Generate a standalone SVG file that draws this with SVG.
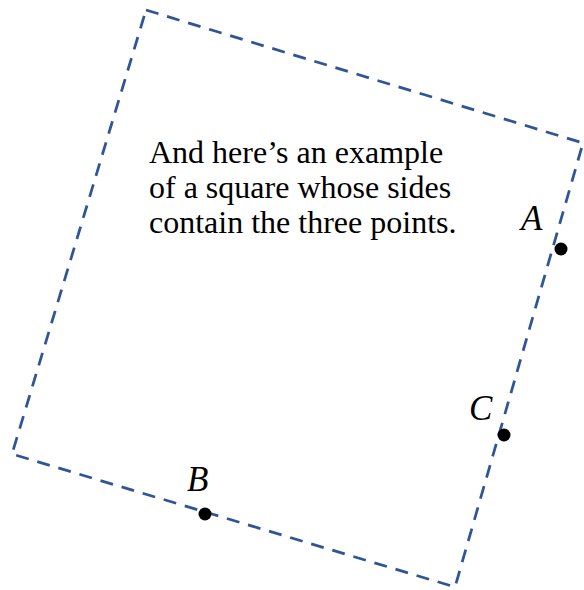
<svg xmlns="http://www.w3.org/2000/svg" width="584" height="590" viewBox="0 0 584 590">
<style>
.sq{fill:none;stroke:#2F5597;stroke-width:2.75;stroke-dasharray:13 9;stroke-linejoin:miter}
.pt{fill:#000}
.lbl{font-family:"Liberation Serif",serif;font-style:italic;font-size:35px;fill:#000}
.txt{font-family:"Liberation Serif",serif;font-size:32px;fill:#000}
</style>
<g id="connectors">
<polygon class="sq" points="146,10 583,143 455,587 12,454"/>
</g>
<g id="text"><text class="txt" x="149" y="163">And here’s an example</text><text class="txt" x="149" y="198">of a square whose sides</text><text class="txt" x="149" y="233">contain the three points.</text></g>
<g id="A"><circle class="pt" cx="561" cy="249" r="6.5"/><text class="lbl" x="521" y="230">A</text></g>
<g id="C"><circle class="pt" cx="504" cy="435" r="6.5"/><text class="lbl" x="469" y="420">C</text></g>
<g id="B"><circle class="pt" cx="205" cy="514" r="6.5"/><text class="lbl" x="187" y="491">B</text></g>
</svg>
